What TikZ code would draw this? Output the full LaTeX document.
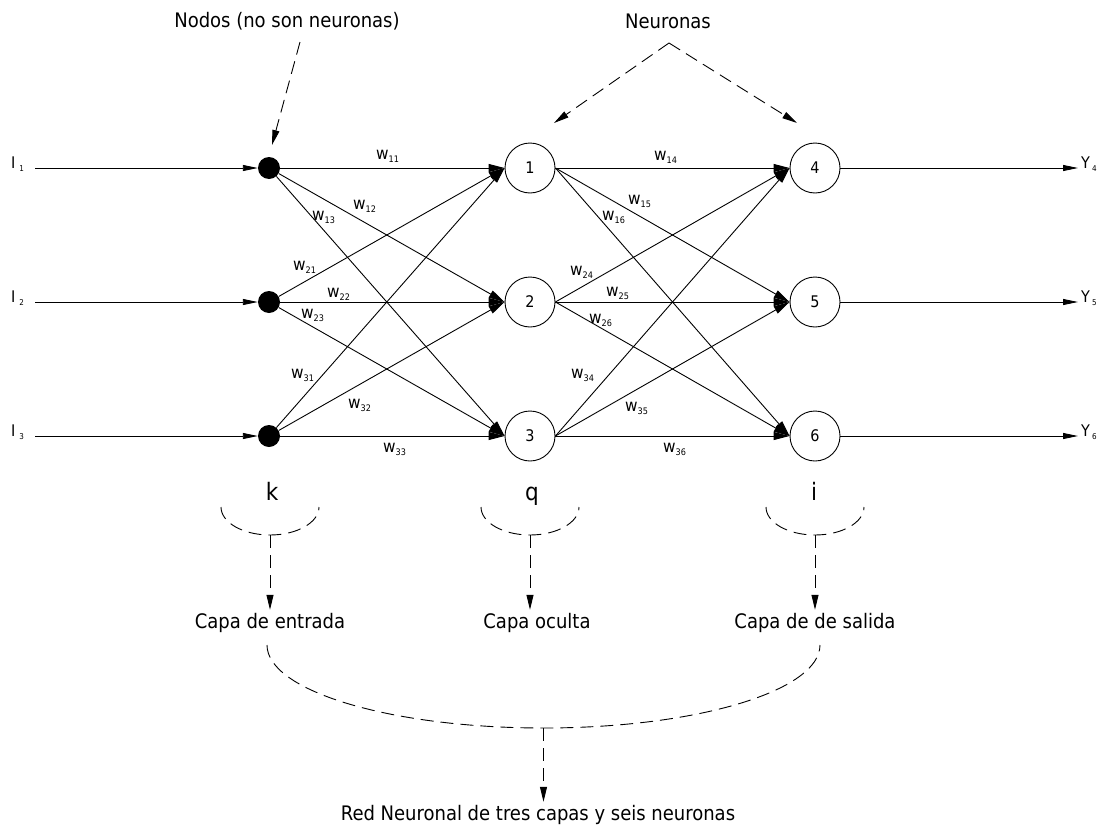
\documentclass[tikz,border=0pt]{standalone}
\usepackage{fontspec}
\setmainfont{DejaVu Sans Condensed}
\usetikzlibrary{arrows.meta}
\newcommand\wl[1]{{\fontsize{17}{17}\selectfont w}\raisebox{-3pt}{\fontsize{9}{9}\selectfont #1}}
\newcommand\iol[3]{{\fontsize{16}{16}\selectfont #1}\hspace{#2}\raisebox{-3pt}{\fontsize{8}{8}\selectfont #3}}
\begin{document}
\begin{tikzpicture}[x=1pt,y=-1pt,
  font=\fontsize{20}{24}\selectfont,
  conn/.style={draw, line width=0.9pt, -{Triangle[length=16pt,width=8pt]}},
  ioarrow/.style={draw, line width=0.9pt, -{Triangle[length=15pt,width=6pt]}},
  dsh/.style={draw, line width=0.9pt, dash pattern=on 13pt off 7pt},
  dsharrow/.style={dsh, -{Triangle[length=15pt,width=7pt]}},
  inode/.style={circle, fill=black, minimum size=22pt, inner sep=0pt},
  neuron/.style={circle, draw, line width=0.9pt, minimum size=50pt, inner sep=0pt, font=\fontsize{16}{18}\selectfont},
  wlab/.style={inner sep=0pt, anchor=base west},
  big/.style={font=\fontsize{24}{26}\selectfont, inner sep=0pt, anchor=base}]
\useasboundingbox (0,0) rectangle (1101,830);

% input nodes
\node[inode] (n1) at (269,168) {};
\node[inode] (n2) at (269,302) {};
\node[inode] (n3) at (269,436) {};
% hidden neurons
\node[neuron] (h1) at (530,168) {1};
\node[neuron] (h2) at (530,302) {2};
\node[neuron] (h3) at (530,436) {3};
% output neurons
\node[neuron] (o4) at (815,168) {4};
\node[neuron] (o5) at (815,302) {5};
\node[neuron] (o6) at (815,436) {6};

% input labels and arrows
\node[wlab] (I1) at (11,168) {\iol{I}{4pt}{1}};
\node[wlab] (I2) at (11,302) {\iol{I}{4pt}{2}};
\node[wlab] (I3) at (11,436) {\iol{I}{4pt}{3}};
\coordinate (s1) at (35,168);
\coordinate (s2) at (35,302);
\coordinate (s3) at (35,436);
\draw[ioarrow] (s1) -- (n1.west);
\draw[ioarrow] (s2) -- (n2.west);
\draw[ioarrow] (s3) -- (n3.west);

% output arrows and labels
\coordinate (e4) at (1078,168);
\coordinate (e5) at (1078,302);
\coordinate (e6) at (1078,436);
\draw[ioarrow] (o4.east) -- (e4);
\draw[ioarrow] (o5.east) -- (e5);
\draw[ioarrow] (o6.east) -- (e6);
\node[wlab] (Y4) at (1081,168) {\iol{Y}{2pt}{4}};
\node[wlab] (Y5) at (1081,302) {\iol{Y}{2pt}{5}};
\node[wlab] (Y6) at (1081,436) {\iol{Y}{2pt}{6}};

% input -> hidden
\foreach \a in {1,2,3}{
  \foreach \b in {1,2,3}{
    \draw[conn] (n\a) -- (h\b.west);
  }
}
% hidden -> output
\foreach \a in {1,2,3}{
  \foreach \b in {4,5,6}{
    \draw[conn] (h\a.east) -- (o\b.west);
  }
}

% weight labels
\node[wlab] (w11) at (376,159) {\wl{11}};
\node[wlab] (w12) at (353,209) {\wl{12}};
\node[wlab] (w13) at (312,220) {\wl{13}};
\node[wlab] (w21) at (293,270) {\wl{21}};
\node[wlab] (w22) at (327,297) {\wl{22}};
\node[wlab] (w23) at (301,318) {\wl{23}};
\node[wlab] (w31) at (291,378) {\wl{31}};
\node[wlab] (w32) at (348,408) {\wl{32}};
\node[wlab] (w33) at (383,452) {\wl{33}};
\node[wlab] (w14) at (654,160) {\wl{14}};
\node[wlab] (w15) at (628,204) {\wl{15}};
\node[wlab] (w16) at (602,220) {\wl{16}};
\node[wlab] (w24) at (570,275) {\wl{24}};
\node[wlab] (w25) at (606,296) {\wl{25}};
\node[wlab] (w26) at (589,323) {\wl{26}};
\node[wlab] (w34) at (571,378) {\wl{34}};
\node[wlab] (w35) at (625,411) {\wl{35}};
\node[wlab] (w36) at (663,452) {\wl{36}};

% top annotations
\node (nodos) at (287,21) {Nodos (no son neuronas)};
\coordinate (nodosA) at (300,42);
\coordinate (nodosT) at (272,145);
\draw[dsharrow] (nodosA) -- (nodosT);

\node (neur) at (668,21) {Neuronas};
\coordinate (apex) at (669,43);
\coordinate (t1) at (554,123);
\coordinate (t4) at (797,123);
\draw[dsharrow] (apex) -- (t1);
\draw[dsharrow] (apex) -- (t4);

% layer letters
\node[big] (k) at (272,500) {k};
\node[big] (q) at (532,500) {q};
\node[big] (i) at (814,500) {i};

% small braces
\coordinate (ka) at (221,507);
\coordinate (qa) at (481,507);
\coordinate (ia) at (766,507);
\draw[dsh] (ka) arc[start angle=180, end angle=360, x radius=49pt, y radius=28pt];
\draw[dsh] (qa) arc[start angle=180, end angle=360, x radius=49pt, y radius=28pt];
\draw[dsh] (ia) arc[start angle=180, end angle=360, x radius=49pt, y radius=28pt];
\coordinate (kb) at (270,535);
\coordinate (qb) at (530,535);
\coordinate (ib) at (815,535);

\node (capa1) at (270,623) {Capa de entrada};
\node (capa2) at (537,623) {Capa oculta};
\node (capa3) at (815,623) {Capa de de salida};
\draw[dsharrow] (kb) -- (kb |- capa1.north);
\draw[dsharrow] (qb) -- (qb |- capa2.north);
\draw[dsharrow] (ib) -- (ib |- capa3.north);

% big brace
\coordinate (ba) at (267,645);
\draw[dsh] (ba) arc[start angle=180, end angle=360, x radius=276.5pt, y radius=83pt];
\coordinate (bb) at (543.5,728);
\node (red) at (538,815) {Red Neuronal de tres capas y seis neuronas};
\draw[dsharrow] (bb) -- (bb |- red.north);
\end{tikzpicture}
\end{document}
